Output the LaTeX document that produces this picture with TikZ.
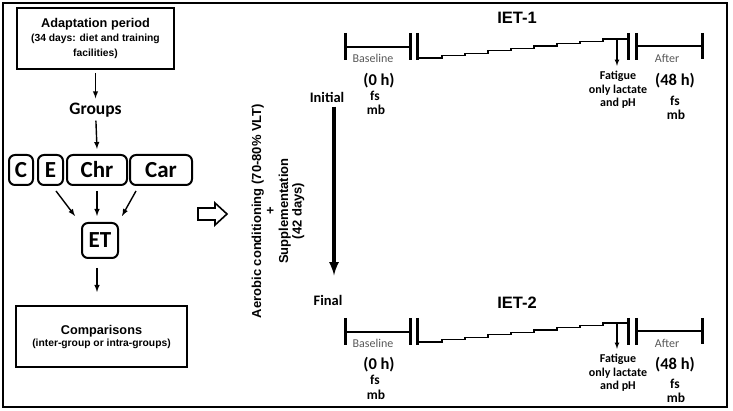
\documentclass[tikz,border=0pt]{standalone}
\usepackage{fontspec}
\setmainfont{Liberation Sans}
\newfontfamily\calibri{Carlito}
\usetikzlibrary{shapes.geometric, arrows}
\usetikzlibrary{positioning}
\newcommand{\smalltext}{\fontsize{10.3}{12}\selectfont}

\begin{document}
\begin{tikzpicture}[x=1pt, y=-1pt, node distance=71.5pt]
        \tikzstyle{box} = [rectangle, draw=black, line width=2pt, minimum width=157pt, minimum height=61pt, align=center, font=\bfseries\fontsize{12.7}{15}\selectfont]
        \tikzstyle{group} = [rectangle, rounded corners=6pt, draw=black, line width=2pt, minimum height=30pt, inner sep=0pt, font=\calibri\bfseries\fontsize{23}{23}\selectfont]
        \tikzstyle{bar} = [line width=3pt]
        \tikzstyle{stair} = [line width=1.1pt]
        \tikzstyle{flow} = [-latex, line width=1.4pt]
        \tikzstyle{phase} = [text=black!65, font=\calibri\fontsize{12}{14}\selectfont]
        \tikzstyle{timetext} = [align=center, font=\calibri\bfseries\fontsize{12}{13.5}\selectfont]
        \tikzstyle{marker} = [font=\calibri\bfseries\fontsize{13.5}{13.5}\selectfont]
        \tikzstyle{hours} = [font=\calibri\bfseries\fontsize{16.5}{16.5}\selectfont]
        \useasboundingbox (0,0) rectangle (733,411);
        \draw[line width=2pt] (3,3) rectangle (727,407);

        % left column
        \node[box] (adaptation) at (95.5,38.5) {Adaptation period\\[-1pt]\smalltext (34 days: diet and training\\\smalltext facilities)};
        \node[below of=adaptation, font=\calibri\bfseries\fontsize{17.5}{17.5}\selectfont] (groups) {Groups};
        \node[group, minimum width=60pt, below of=groups, node distance=60pt, xshift=1.5pt] (grpChr) {Chr};
        \node[group, minimum width=25pt, left of=grpChr, node distance=46.5pt] (grpE) {E};
        \node[group, minimum width=24pt, left of=grpE, node distance=29.5pt] (grpC) {C};
        \node[group, minimum width=62pt, right of=grpChr, node distance=64pt] (grpCar) {Car};
        \node[group, minimum width=36pt, minimum height=35pt, below of=grpChr, node distance=70.5pt, xshift=3pt] (et) {ET};
        \node[box, minimum width=171pt, below of=et, node distance=96pt, xshift=1.5pt] (comparisons) {Comparisons\\[-3pt]\smalltext (inter-group or intra-groups)};

        \draw[flow] ([yshift=-3pt]adaptation.south) -- ([yshift=1pt]groups.north);
        \draw[flow] (groups) -- ([yshift=5pt]grpChr.north);
        \draw[flow] ([xshift=-8pt,yshift=-5pt]grpE.south east) -- ([xshift=-6pt,yshift=6pt]et.north west);
        \draw[flow] ([yshift=-5pt]grpChr.south) -- ([yshift=6pt]grpChr.south |- et.north);
        \draw[flow] ([xshift=7pt,yshift=-5pt]grpCar.south west) -- ([xshift=3pt,yshift=6pt]et.north east);
        \draw[flow] ([xshift=-3pt,yshift=-9pt]et.south) -- ([xshift=-4.5pt,yshift=13pt]comparisons.north);

        % hollow arrow
        \draw[line width=1.6pt] (198,208) -- (215,208) -- (215,203) -- (227,214) -- (215,225) -- (215,220) -- (198,220) -- cycle;

        % conditioning
        \node[rotate=90, align=center, font=\bfseries\fontsize{13}{13.5}\selectfont] (conditioning) at (278,211) {Aerobic conditioning (70-80\% VLT)\\+\\Supplementation\\(42 days)};
        \node[font=\calibri\bfseries\fontsize{14.5}{14.5}\selectfont] (initial) at (327,97) {Initial};
        \node[font=\calibri\bfseries\fontsize{14.5}{14.5}\selectfont] (final) at (328,300) {Final};
        \draw[-latex, line width=3.5pt] ([xshift=7pt,yshift=-1pt]initial.south) -- ([xshift=6pt,yshift=16pt]final.north);

        % IET-1
        \node[font=\bfseries\fontsize{16.5}{16.5}\selectfont] (iet1) at (517,18) {IET-1};
        \draw[bar] (345,33) -- (345,60);
        \draw[line width=2.2pt] (345,47) -- (410,47);
        \draw[bar] (410,33) -- (410,60);
        \draw[bar] (417,33) -- (417,60);
        \draw[stair] (418,58) -| (442,55.6) -| (465,53.2) -| (488,50.8) -| (511,48.4) -| (534,46) -| (557,43.6) -| (580,41.2) -| (603,39) -- (627,39);
        \draw[bar] (628,33) -- (628,60);
        \draw[bar] (636,33) -- (636,60);
        \draw[line width=2.2pt] (636,46) -- (702,46);
        \draw[bar] (702,33) -- (702,59);
        \coordinate (peak1) at (617,39);
        \node[timetext] (fatigue1) at (618,90) {Fatigue\\only lactate\\and pH};
        \draw[-latex, stair] (peak1) -- ([xshift=-1pt,yshift=2pt]fatigue1.north);
        \node[phase] (baseline1) at (373,58) {Baseline};
        \node[hours] (zero1) at (379,81) {(0 h)};
        \node[marker] (fsBase1) at (375,96) {fs};
        \node[marker] (mbBase1) at (376,110) {mb};
        \node[phase] (after1) at (667,58) {After};
        \node[hours] (late1) at (675,81) {(48 h)};
        \node[marker] (fsAfter1) at (675,101) {fs};
        \node[marker] (mbAfter1) at (676,115) {mb};

        % IET-2
        \node[font=\bfseries\fontsize{16.5}{16.5}\selectfont] (iet2) at (517,303) {IET-2};
        \draw[bar] (345,318) -- (345,345);
        \draw[line width=2.2pt] (345,332) -- (410,332);
        \draw[bar] (410,318) -- (410,345);
        \draw[bar] (417,318) -- (417,345);
        \draw[stair] (418,342) -| (442,339.6) -| (465,337.2) -| (488,334.8) -| (511,332.4) -| (534,330) -| (557,327.6) -| (580,325.2) -| (603,323) -- (627,323);
        \draw[bar] (628,318) -- (628,345);
        \draw[bar] (636,318) -- (636,345);
        \draw[line width=2.2pt] (636,331) -- (702,331);
        \draw[bar] (702,318) -- (702,344);
        \coordinate (peak2) at (617,323);
        \node[timetext] (fatigue2) at (618,373) {Fatigue\\only lactate\\and pH};
        \draw[-latex, stair] (peak2) -- ([xshift=-1pt,yshift=2pt]fatigue2.north);
        \node[phase] (baseline2) at (373,343) {Baseline};
        \node[hours] (zero2) at (379,365) {(0 h)};
        \node[marker] (fsBase2) at (375,380) {fs};
        \node[marker] (mbBase2) at (376,395) {mb};
        \node[phase] (after2) at (667,343) {After};
        \node[hours] (late2) at (675,365) {(48 h)};
        \node[marker] (fsAfter2) at (675,384) {fs};
        \node[marker] (mbAfter2) at (676,398) {mb};
\end{tikzpicture}
\end{document}
